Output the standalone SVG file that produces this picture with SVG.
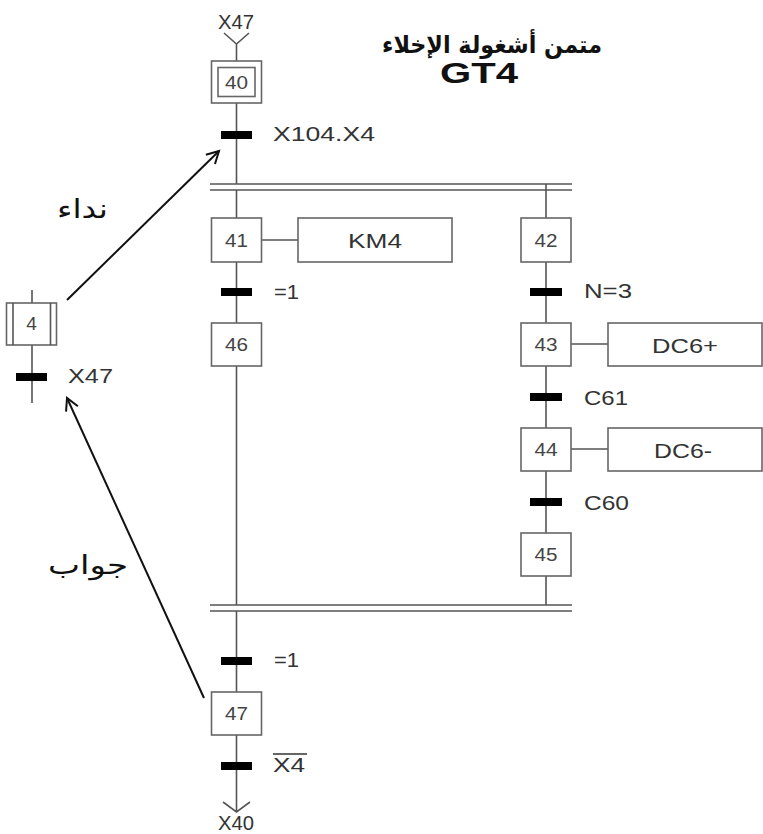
<svg xmlns="http://www.w3.org/2000/svg" width="763" height="834" viewBox="0 0 763 834">
<style>
.ln{stroke:#555;stroke-width:1.6;fill:none}
.box{stroke:#666;stroke-width:1.6;fill:#fff}
.bar{fill:#000}
.num{font-family:"Liberation Sans",Arial,sans-serif;font-size:19px;fill:#444;text-anchor:middle}
.lbl{font-family:"Liberation Sans",Arial,sans-serif;font-size:21px;fill:#333}
.act{font-family:"Liberation Sans",Arial,sans-serif;font-size:21px;fill:#333;text-anchor:middle}
.ar{font-family:"DejaVu Sans",sans-serif;font-size:26px;fill:#111}
.arr{stroke:#111;stroke-width:2;fill:none}
</style>
<defs>
<marker id="open" markerWidth="16" markerHeight="16" refX="13" refY="8" orient="auto" markerUnits="userSpaceOnUse">
<path d="M1,1.5 L13,8 L1,14.5" fill="none" stroke="#111" stroke-width="2"/>
</marker>
</defs>
<g id="title">
<text x="382" y="53" font-family="DejaVu Sans,sans-serif" font-size="24" font-weight="bold" fill="#111" textLength="220" lengthAdjust="spacingAndGlyphs">متمن أشغولة الإخلاء</text>
<text x="440" y="83" font-family="Liberation Sans,Arial,sans-serif" font-size="29" font-weight="bold" fill="#111" textLength="78" lengthAdjust="spacingAndGlyphs">GT4</text>
</g>
<g id="connectors">
<path class="ln" d="M224,33 L236.5,44 L249,33 M236.5,44 V61 M236.5,103 V184 M236.5,190 V218 M236.5,262 V323 M236.5,366 V605 M236.5,611 V692 M236.5,735 V812 M223,802 L236.5,812 L250,802"/>
<path class="ln" d="M546,184 V218 M546,262 V323 M546,366 V428 M546,471 V533 M546,576 V605"/>
<path class="ln" d="M210,184 H572 M210,190 H572 M210,605 H572 M210,611 H572"/>
<path class="ln" d="M262,240 H298 M571,344 H608 M571,449 H608"/>
<path class="ln" d="M32,290 V303 M32,345 V403"/>
<rect class="bar" x="221" y="131" width="31" height="8"/>
<rect class="bar" x="221" y="288" width="31" height="8"/>
<rect class="bar" x="530" y="288" width="32" height="8"/>
<rect class="bar" x="530" y="393" width="32" height="8"/>
<rect class="bar" x="530" y="498" width="32" height="8"/>
<rect class="bar" x="221" y="657" width="31" height="8"/>
<rect class="bar" x="221" y="762" width="31" height="8"/>
<rect class="bar" x="16" y="373" width="31" height="8"/>
<text class="lbl" x="273" y="141" textLength="102" lengthAdjust="spacingAndGlyphs">X104.X4</text>
<text class="lbl" x="274" y="299" textLength="25" lengthAdjust="spacingAndGlyphs">=1</text>
<text class="lbl" x="584" y="298" textLength="48" lengthAdjust="spacingAndGlyphs">N=3</text>
<text class="lbl" x="584" y="405" textLength="44" lengthAdjust="spacingAndGlyphs">C61</text>
<text class="lbl" x="584" y="510" textLength="45" lengthAdjust="spacingAndGlyphs">C60</text>
<text class="lbl" x="274" y="667" textLength="25" lengthAdjust="spacingAndGlyphs">=1</text>
<text class="lbl" x="273" y="772" textLength="32" lengthAdjust="spacingAndGlyphs">X4</text>
<line x1="273" y1="754" x2="307" y2="754" stroke="#333" stroke-width="1.4"/>
<text class="lbl" x="68" y="383" textLength="45" lengthAdjust="spacingAndGlyphs">X47</text>
<text class="lbl" x="218" y="29" font-size="19" textLength="36" lengthAdjust="spacingAndGlyphs">X47</text>
<text class="lbl" x="218" y="830" font-size="19" textLength="36" lengthAdjust="spacingAndGlyphs">X40</text>
<line class="arr" x1="67" y1="300" x2="219" y2="151" marker-end="url(#open)"/>
<line class="arr" x1="204" y1="698" x2="67" y2="398" marker-end="url(#open)"/>
<text class="ar" x="57" y="218" textLength="51" lengthAdjust="spacingAndGlyphs">نداء</text>
<text class="ar" x="48" y="574" textLength="80" lengthAdjust="spacingAndGlyphs">جواب</text>
</g>
<g id="s40">
<rect class="box" x="211.5" y="61" width="50" height="42"/>
<rect class="box" x="218" y="67.5" width="37" height="29"/>
<text class="num" x="236.5" y="89" textLength="23" lengthAdjust="spacingAndGlyphs">40</text>
</g>
<g id="s41"><rect class="box" x="211.5" y="218" width="50" height="44"/><text class="num" x="236.5" y="247" textLength="23" lengthAdjust="spacingAndGlyphs">41</text></g>
<g id="a41"><rect class="box" x="298" y="218" width="154" height="44"/><text class="act" x="375" y="248" textLength="54" lengthAdjust="spacingAndGlyphs">KM4</text></g>
<g id="s46"><rect class="box" x="211.5" y="323" width="50" height="43"/><text class="num" x="236.5" y="351" textLength="23" lengthAdjust="spacingAndGlyphs">46</text></g>
<g id="s42"><rect class="box" x="521" y="218" width="50" height="44"/><text class="num" x="546" y="247" textLength="23" lengthAdjust="spacingAndGlyphs">42</text></g>
<g id="s43"><rect class="box" x="521" y="323" width="50" height="43"/><text class="num" x="546" y="351" textLength="23" lengthAdjust="spacingAndGlyphs">43</text></g>
<g id="a43"><rect class="box" x="608" y="323" width="154" height="43"/><text class="act" x="685" y="353" textLength="66" lengthAdjust="spacingAndGlyphs">DC6+</text></g>
<g id="s44"><rect class="box" x="521" y="428" width="50" height="43"/><text class="num" x="546" y="456" textLength="23" lengthAdjust="spacingAndGlyphs">44</text></g>
<g id="a44"><rect class="box" x="608" y="428" width="154" height="43"/><text class="act" x="683" y="458" textLength="58" lengthAdjust="spacingAndGlyphs">DC6-</text></g>
<g id="s45"><rect class="box" x="521" y="533" width="50" height="43"/><text class="num" x="546" y="561" textLength="23" lengthAdjust="spacingAndGlyphs">45</text></g>
<g id="s47"><rect class="box" x="211.5" y="692" width="50" height="43"/><text class="num" x="236.5" y="720" textLength="23" lengthAdjust="spacingAndGlyphs">47</text></g>
<g id="s4">
<rect class="box" x="6.5" y="303" width="50" height="42"/>
<path class="ln" d="M13,303 V345 M50.5,303 V345"/>
<text class="num" x="31.5" y="330" font-size="16">4</text>
</g>
</svg>
